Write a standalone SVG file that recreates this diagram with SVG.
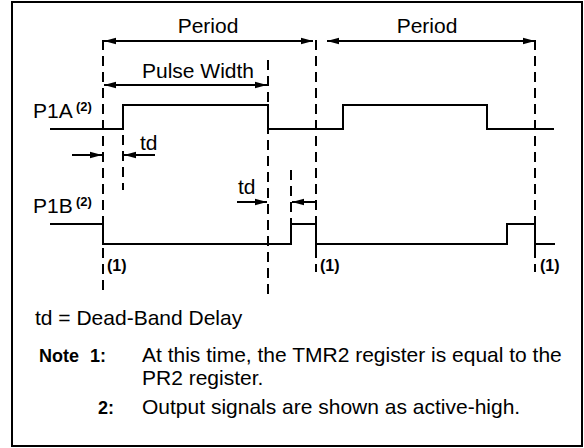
<svg xmlns="http://www.w3.org/2000/svg" width="584" height="448" viewBox="0 0 584 448">
<defs>
<marker id="ah" markerUnits="userSpaceOnUse" markerWidth="13" markerHeight="8" refX="12" refY="4" orient="auto-start-reverse">
<path d="M0,0.8 L12,4 L0,7.2 Z" fill="#000"/>
</marker>
<style>
.t{font-family:"Liberation Sans",Arial,sans-serif;font-size:21px;fill:#000}
.b{font-family:"Liberation Sans",Arial,sans-serif;font-weight:bold;fill:#000}
.sup{font-size:13px}
.n{font-size:16px}
.nb{font-size:18px}
.w{fill:none;stroke:#000;stroke-width:2}
.d{fill:none;stroke:#000;stroke-width:2;stroke-dasharray:10 6}
.a{fill:none;stroke:#000;stroke-width:2;marker-end:url(#ah)}
.a2{fill:none;stroke:#000;stroke-width:2;marker-start:url(#ah);marker-end:url(#ah)}
</style>
</defs>
<rect x="12" y="2" width="570" height="444" fill="#fff" stroke="#000" stroke-width="2"/>
<g id="connectors">
<line class="d" x1="103" y1="40" x2="103" y2="295"/>
<line class="d" x1="268" y1="60" x2="268" y2="296"/>
<line class="d" x1="316" y1="40" x2="316" y2="272"/>
<line class="d" x1="535" y1="40" x2="535" y2="272"/>
<line class="d" x1="123" y1="135" x2="123" y2="190"/>
<line class="d" x1="291" y1="170" x2="291" y2="224"/>
<line class="a2" x1="104" y1="41" x2="313" y2="41"/>
<line class="a2" x1="327" y1="41" x2="535" y2="41"/>
<line class="a2" x1="104" y1="85" x2="267" y2="85"/>
<line class="a" x1="72" y1="155" x2="102" y2="155"/>
<line class="a" x1="155" y1="155" x2="124" y2="155"/>
<line class="a" x1="237" y1="202" x2="267" y2="202"/>
<line class="a" x1="316" y1="202" x2="292" y2="202"/>
</g>
<g id="P1A">
<polyline class="w" points="50,129 123,129 123,105 268,105 268,129 343,129 343,105 487,105 487,129 554,129"/>
<text class="t" x="33" y="118">P1A</text>
<text class="b sup" x="76" y="111">(2)</text>
</g>
<g id="P1B">
<polyline class="w" points="50,224 103,224 103,244 291,244 291,224 316,224 316,244 507,244 507,224 535,224 535,244 555,244"/>
<line class="w" x1="316" y1="244" x2="316" y2="252"/>
<line class="w" x1="535" y1="244" x2="535" y2="252"/>
<text class="t" x="33" y="213">P1B</text>
<text class="b sup" x="76" y="206">(2)</text>
</g>
<g id="labels">
<text class="t" x="208" y="33" text-anchor="middle">Period</text>
<text class="t" x="427" y="33" text-anchor="middle">Period</text>
<text class="t" x="198" y="78" text-anchor="middle">Pulse Width</text>
<text class="t" x="140" y="150">td</text>
<text class="t" x="238" y="194">td</text>
<text class="b n" x="107" y="271">(1)</text>
<text class="b n" x="320" y="271">(1)</text>
<text class="b n" x="540" y="271">(1)</text>
</g>
<g id="notes">
<text class="t" x="35" y="325">td = Dead-Band Delay</text>
<text class="b nb" x="39" y="362">Note</text>
<text class="b nb" x="90" y="362">1:</text>
<text class="t" x="142" y="362">At this time, the TMR2 register is equal to the</text>
<text class="t" x="142" y="385">PR2 register.</text>
<text class="b nb" x="98" y="414">2:</text>
<text class="t" x="142" y="414">Output signals are shown as active-high.</text>
</g>
</svg>
